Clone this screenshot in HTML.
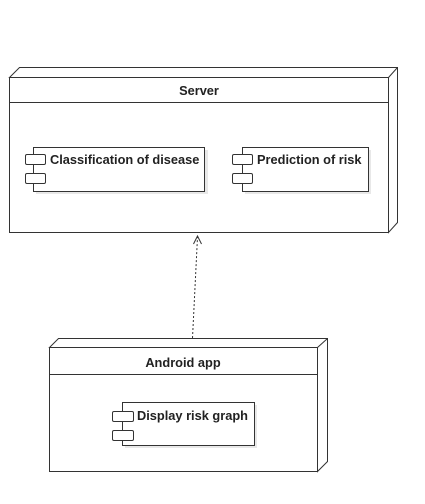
<!DOCTYPE html>
<html><head><meta charset="utf-8"><style>body{margin:0;background:#fff}</style></head><body>
<svg width="425" height="499" xmlns="http://www.w3.org/2000/svg" font-family="Liberation Sans, sans-serif" font-weight="bold" font-size="12.8">
<g fill="#fff" stroke="#333" stroke-width="1">
<polygon points="9.5,77.5 19.5,67.5 397.5,67.5 397.5,222.5 388.5,232.5 388.5,77.5"/>
<line x1="388.5" y1="77.5" x2="397.5" y2="67.5"/>
<rect x="9.5" y="77.5" width="379" height="155"/>
<line x1="9.5" y1="102.5" x2="388.5" y2="102.5"/>
<rect x="36" y="150" width="172" height="44" fill="#e8e8e8" stroke="none"/>
<rect x="33.5" y="147.5" width="171" height="44"/>
<rect x="25.5" y="154.5" width="20" height="10" rx="1.5"/>
<rect x="25.5" y="173.5" width="20" height="10" rx="1.5"/>
<rect x="245" y="150" width="126" height="44" fill="#e8e8e8" stroke="none"/>
<rect x="242.5" y="147.5" width="126" height="44"/>
<rect x="232.5" y="154.5" width="20" height="10" rx="1.5"/>
<rect x="232.5" y="173.5" width="20" height="10" rx="1.5"/>
<polygon points="49.5,347.5 58.5,338.5 327.5,338.5 327.5,461.5 317.5,471.5 317.5,347.5"/>
<line x1="317.5" y1="347.5" x2="327.5" y2="338.5"/>
<rect x="49.5" y="347.5" width="268" height="124"/>
<line x1="49.5" y1="374.5" x2="317.5" y2="374.5"/>
<rect x="125" y="405" width="132" height="43" fill="#e8e8e8" stroke="none"/>
<rect x="122.5" y="402.5" width="132" height="43"/>
<rect x="112.5" y="411.5" width="21" height="10" rx="1.5"/>
<rect x="112.5" y="430.5" width="21" height="10" rx="1.5"/>
</g>
<line x1="192.5" y1="338" x2="197.5" y2="237" stroke="#333" stroke-dasharray="2,2"/>
<polyline points="193.5,244 197.5,236 201.5,244" fill="none" stroke="#333"/>
<g fill="#222">
<text x="199" y="95" text-anchor="middle">Server</text>
<text x="50" y="164">Classification of disease</text>
<text x="257" y="164">Prediction of risk</text>
<text x="183" y="367" text-anchor="middle">Android app</text>
<text x="137" y="420">Display risk graph</text>
</g>
</svg>
</body></html>
